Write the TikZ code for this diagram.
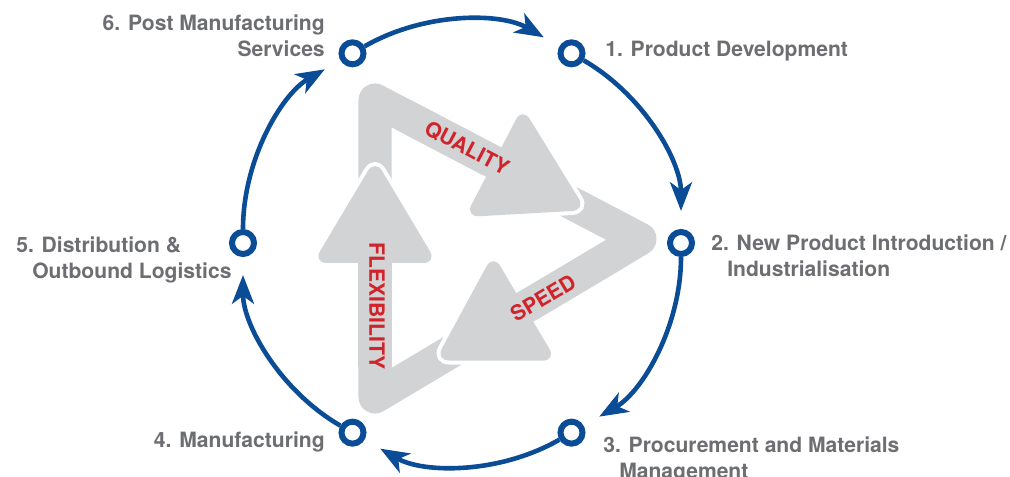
\documentclass[tikz,border=0pt]{standalone}
\usepackage{fontspec}
\setmainfont{TeX Gyre Heros}
\usetikzlibrary{arrows.meta,calc}
\definecolor{ringblue}{HTML}{0B4C96}
\definecolor{arrowgray}{HTML}{D1D3D4}
\definecolor{labelgray}{HTML}{6D6E71}
\definecolor{wordred}{HTML}{D2232A}

\begin{document}
\begin{tikzpicture}[x=0.025cm,y=0.025cm,
    hub/.style={circle,draw=ringblue,line width=0.15cm,fill=white,minimum size=0.55cm,inner sep=0pt},
    ring/.style={draw=ringblue,line width=0.115cm,-{Stealth[length=0.72cm,width=0.55cm,inset=0.2cm]},shorten >=0.45cm,bend left=30,looseness=0.9},
    shaft/.style={draw=arrowgray,line width=0.825cm,line join=round},
    head/.style={fill=arrowgray,rounded corners=0.35cm},
    lab/.style={font=\fontsize{15}{17.8}\selectfont\bfseries,text=labelgray,inner sep=0pt},
    word/.style={font=\fontsize{15}{18}\selectfont\bfseries,text=wordred,inner sep=0pt}]
    \useasboundingbox (-462,-234) rectangle (548,243);
    \coordinate (A) at (-87,143);
    \coordinate (B) at (178,4);
    \coordinate (C) at (-87,-154);
    \foreach \p/\c/\n in {C/A/B,A/B/C,B/C/A} \draw[shaft] ($(\p)!0.68!(\c)$) -- (\c) -- ($(\c)!0.5!(\n)$);
    \foreach \c/\r in {A/-27.6,B/210.7,C/90} {
        \begin{scope}[shift={(\c)},rotate=\r]
            \fill[head,preaction={draw=white,line width=0.2cm}] (134,62) -- (238,0) -- (134,-62) -- cycle;
            \draw[shaft] (30,0) -- (142,0);
        \end{scope}
    }
    \node[word,rotate=-27.6] (quality) at (5,95) {QUALITY};
    \node[word,rotate=30.7] (speed) at (81,-55) {SPEED};
    \node[word,rotate=-90] (flex) at (-85,-63) {FLEXIBILITY};

    \foreach \n/\a in {1/60,2/0,3/-60,4/-120,5/180,6/120} \node[hub] (n\n) at (\a:219) {};
    \foreach \a/\b in {6/1,1/2,2/3,3/4,4/5,5/6} \draw[ring] (n\a) to (n\b);

    \node[lab,anchor=north west,align=left] (l1) at (143,202) {1. Product Development};
    \node[lab,anchor=north west,align=left] (l2) at (249,8) {2. New Product Introduction /\\\hspace*{0.4cm}Industrialisation};
    \node[lab,anchor=north west,align=left] (l3) at (141,-194) {3. Procurement and Materials\\\hspace*{0.4cm}Management};
    \node[lab,anchor=north east] (l4) at (-137,-189) {4. Manufacturing};
    \node[lab,anchor=north west,align=left] (l5) at (-446,6) {5. Distribution \&\\\hspace*{0.4cm}Outbound Logistics};
    \node[lab,anchor=north east,align=right] (l6) at (-137,228) {6. Post Manufacturing\\Services};
\end{tikzpicture}
\end{document}
